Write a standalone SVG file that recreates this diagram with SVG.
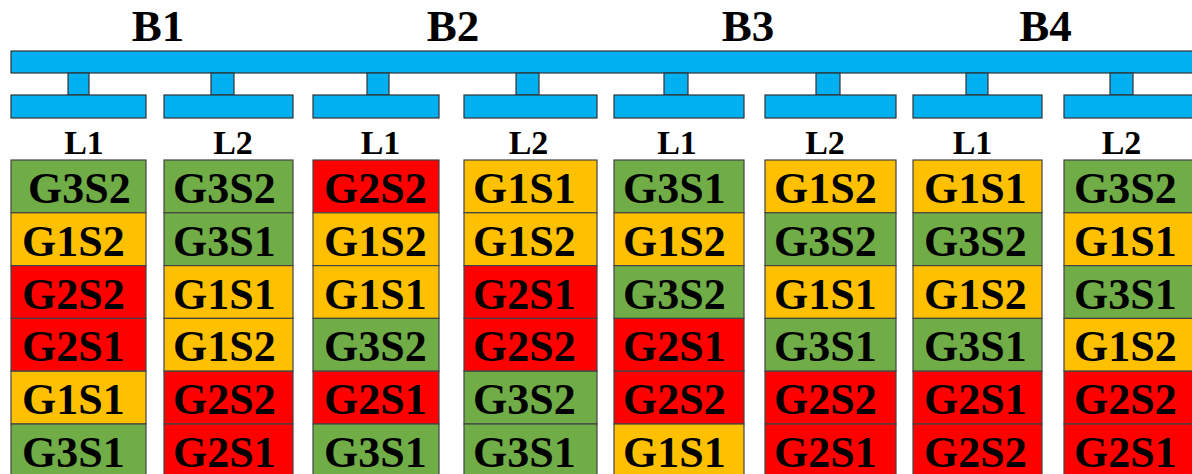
<svg xmlns="http://www.w3.org/2000/svg" width="1192" height="474" viewBox="0 0 1192 474">
<style>
.bar{fill:#00B0F0;stroke:#333;stroke-width:1.2}
.c{stroke:#444;stroke-width:1.2}
.g{fill:#70AD47}.y{fill:#FFC000}.r{fill:#FF0000}
text{font-family:"Liberation Serif","Times New Roman",serif;font-weight:bold;fill:#000}
.t{font-size:44px}
.h{font-size:45px;text-anchor:middle}
.l{font-size:34px;text-anchor:middle}
</style>
<rect width="1192" height="474" fill="#fff"/>
<g id="titles">
<text class="h" x="158" y="40.5">B1</text>
<text class="h" x="453" y="40.5">B2</text>
<text class="h" x="748" y="40.5">B3</text>
<text class="h" x="1045.5" y="40.5">B4</text>
</g>
<g id="bus"><rect class="bar" x="11" y="51" width="1195" height="22"/></g>
<g id="connectors">
<rect class="bar" x="68" y="73" width="21" height="22"/>
<rect class="bar" x="211" y="73" width="23" height="22"/>
<rect class="bar" x="367" y="73" width="22" height="22"/>
<rect class="bar" x="516" y="73" width="23" height="22"/>
<rect class="bar" x="664" y="73" width="24" height="22"/>
<rect class="bar" x="816" y="73" width="24" height="22"/>
<rect class="bar" x="966" y="73" width="22" height="22"/>
<rect class="bar" x="1110" y="73" width="23" height="22"/>
</g>
<g id="col1">
<rect class="bar" x="11" y="95" width="135" height="23"/>
<text class="l" x="84" y="154">L1</text>
<rect class="c g" x="11" y="160" width="135" height="52.8"/><text class="t" x="28" y="203">G3S2</text>
<rect class="c y" x="11" y="212.8" width="135" height="52.8"/><text class="t" x="22" y="255.8">G1S2</text>
<rect class="c r" x="11" y="265.6" width="135" height="52.8"/><text class="t" x="22" y="308.6">G2S2</text>
<rect class="c r" x="11" y="318.4" width="135" height="52.8"/><text class="t" x="22" y="361.4">G2S1</text>
<rect class="c y" x="11" y="371.2" width="135" height="52.8"/><text class="t" x="22" y="414.2">G1S1</text>
<rect class="c g" x="11" y="424" width="135" height="52.8"/><text class="t" x="22" y="467">G3S1</text>
</g>
<g id="col2">
<rect class="bar" x="164" y="95" width="129" height="23"/>
<text class="l" x="233" y="154">L2</text>
<rect class="c g" x="164" y="160" width="129" height="52.8"/><text class="t" x="173" y="203">G3S2</text>
<rect class="c g" x="164" y="212.8" width="129" height="52.8"/><text class="t" x="173" y="255.8">G3S1</text>
<rect class="c y" x="164" y="265.6" width="129" height="52.8"/><text class="t" x="173" y="308.6">G1S1</text>
<rect class="c y" x="164" y="318.4" width="129" height="52.8"/><text class="t" x="173" y="361.4">G1S2</text>
<rect class="c r" x="164" y="371.2" width="129" height="52.8"/><text class="t" x="173" y="414.2">G2S2</text>
<rect class="c r" x="164" y="424" width="129" height="52.8"/><text class="t" x="173" y="467">G2S1</text>
</g>
<g id="col3">
<rect class="bar" x="313" y="95" width="126" height="23"/>
<text class="l" x="380.5" y="154">L1</text>
<rect class="c r" x="313" y="160" width="126" height="52.8"/><text class="t" x="324" y="203">G2S2</text>
<rect class="c y" x="313" y="212.8" width="126" height="52.8"/><text class="t" x="324" y="255.8">G1S2</text>
<rect class="c y" x="313" y="265.6" width="126" height="52.8"/><text class="t" x="324" y="308.6">G1S1</text>
<rect class="c g" x="313" y="318.4" width="126" height="52.8"/><text class="t" x="324" y="361.4">G3S2</text>
<rect class="c r" x="313" y="371.2" width="126" height="52.8"/><text class="t" x="324" y="414.2">G2S1</text>
<rect class="c g" x="313" y="424" width="126" height="52.8"/><text class="t" x="324" y="467">G3S1</text>
</g>
<g id="col4">
<rect class="bar" x="464" y="95" width="133" height="23"/>
<text class="l" x="528.5" y="154">L2</text>
<rect class="c y" x="464" y="160" width="133" height="52.8"/><text class="t" x="473" y="203">G1S1</text>
<rect class="c y" x="464" y="212.8" width="133" height="52.8"/><text class="t" x="473" y="255.8">G1S2</text>
<rect class="c r" x="464" y="265.6" width="133" height="52.8"/><text class="t" x="473" y="308.6">G2S1</text>
<rect class="c r" x="464" y="318.4" width="133" height="52.8"/><text class="t" x="473" y="361.4">G2S2</text>
<rect class="c g" x="464" y="371.2" width="133" height="52.8"/><text class="t" x="473" y="414.2">G3S2</text>
<rect class="c g" x="464" y="424" width="133" height="52.8"/><text class="t" x="473" y="467">G3S1</text>
</g>
<g id="col5">
<rect class="bar" x="614" y="95" width="130" height="23"/>
<text class="l" x="677" y="154">L1</text>
<rect class="c g" x="614" y="160" width="130" height="52.8"/><text class="t" x="623" y="203">G3S1</text>
<rect class="c y" x="614" y="212.8" width="130" height="52.8"/><text class="t" x="623" y="255.8">G1S2</text>
<rect class="c g" x="614" y="265.6" width="130" height="52.8"/><text class="t" x="623" y="308.6">G3S2</text>
<rect class="c r" x="614" y="318.4" width="130" height="52.8"/><text class="t" x="623" y="361.4">G2S1</text>
<rect class="c r" x="614" y="371.2" width="130" height="52.8"/><text class="t" x="623" y="414.2">G2S2</text>
<rect class="c y" x="614" y="424" width="130" height="52.8"/><text class="t" x="623" y="467">G1S1</text>
</g>
<g id="col6">
<rect class="bar" x="765" y="95" width="131" height="23"/>
<text class="l" x="825" y="154">L2</text>
<rect class="c y" x="765" y="160" width="131" height="52.8"/><text class="t" x="774" y="203">G1S2</text>
<rect class="c g" x="765" y="212.8" width="131" height="52.8"/><text class="t" x="774" y="255.8">G3S2</text>
<rect class="c y" x="765" y="265.6" width="131" height="52.8"/><text class="t" x="774" y="308.6">G1S1</text>
<rect class="c g" x="765" y="318.4" width="131" height="52.8"/><text class="t" x="774" y="361.4">G3S1</text>
<rect class="c r" x="765" y="371.2" width="131" height="52.8"/><text class="t" x="774" y="414.2">G2S2</text>
<rect class="c r" x="765" y="424" width="131" height="52.8"/><text class="t" x="774" y="467">G2S1</text>
</g>
<g id="col7">
<rect class="bar" x="913" y="95" width="129" height="23"/>
<text class="l" x="972.5" y="154">L1</text>
<rect class="c y" x="913" y="160" width="129" height="52.8"/><text class="t" x="924" y="203">G1S1</text>
<rect class="c g" x="913" y="212.8" width="129" height="52.8"/><text class="t" x="924" y="255.8">G3S2</text>
<rect class="c y" x="913" y="265.6" width="129" height="52.8"/><text class="t" x="924" y="308.6">G1S2</text>
<rect class="c g" x="913" y="318.4" width="129" height="52.8"/><text class="t" x="924" y="361.4">G3S1</text>
<rect class="c r" x="913" y="371.2" width="129" height="52.8"/><text class="t" x="924" y="414.2">G2S1</text>
<rect class="c r" x="913" y="424" width="129" height="52.8"/><text class="t" x="924" y="467">G2S2</text>
</g>
<g id="col8">
<rect class="bar" x="1064" y="95" width="140" height="23"/>
<text class="l" x="1121.5" y="154">L2</text>
<rect class="c g" x="1064" y="160" width="140" height="52.8"/><text class="t" x="1074" y="203">G3S2</text>
<rect class="c y" x="1064" y="212.8" width="140" height="52.8"/><text class="t" x="1074" y="255.8">G1S1</text>
<rect class="c g" x="1064" y="265.6" width="140" height="52.8"/><text class="t" x="1074" y="308.6">G3S1</text>
<rect class="c y" x="1064" y="318.4" width="140" height="52.8"/><text class="t" x="1074" y="361.4">G1S2</text>
<rect class="c r" x="1064" y="371.2" width="140" height="52.8"/><text class="t" x="1074" y="414.2">G2S2</text>
<rect class="c r" x="1064" y="424" width="140" height="52.8"/><text class="t" x="1074" y="467">G2S1</text>
</g>
</svg>
